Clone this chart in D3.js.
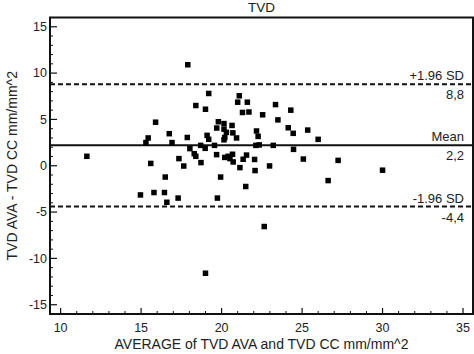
<!DOCTYPE html>
<html>
<head>
<meta charset="utf-8">
<script src="https://cdn.jsdelivr.net/npm/d3@7"></script>
<style>
  body { margin: 0; background: #fff; }
  text { font-family: "Liberation Sans", Arial, sans-serif; fill: #222; }
</style>
</head>
<body>
<div id="chart"></div>
<script>
// averages (x) and differences (y)
const avg = [17.9, 19.2, 21.1, 21.0, 21.6, 18.4, 19.0, 21.3, 21.7, 22.55,
  23.35, 24.3, 23.5, 15.9, 19.8, 20.15, 20.65, 19.7, 20.15, 20.3,
  20.7, 20.2, 20.93, 20.15, 19.1, 19.2, 17.87, 16.75, 16.92, 15.44,
  15.3, 18.7, 19.56, 18.98, 22.17, 22.27, 22.13, 22.34, 23.21, 24.14,
  24.45, 25.35, 26.0, 24.47, 18.03, 18.3, 18.4, 18.72, 19.69, 20.2,
  20.41, 20.68, 20.52, 20.72, 21.14, 21.55, 21.34, 22.05, 22.08, 22.98,
  17.35, 17.65, 15.6, 16.5, 19.94, 14.96, 15.8, 16.45, 16.6, 17.3,
  19.74, 21.5, 22.65, 25.08, 27.24, 26.62, 30.0, 11.63, 19.0];
const diff = [10.9, 7.8, 7.55, 6.86, 6.86, 6.5, 6.1, 5.75, 5.8, 5.5,
  6.6, 6.0, 4.95, 4.7, 4.75, 4.55, 4.35, 4.07, 3.95, 3.6,
  3.55, 3.05, 3.0, 2.8, 3.28, 2.85, 3.05, 3.46, 2.5, 3.0,
  2.5, 2.2, 2.2, 1.88, 3.75, 3.17, 2.2, 2.25, 2.2, 4.1,
  3.5, 3.85, 2.85, 1.77, 1.85, 1.3, 1.02, 0.34, 1.2, 0.9,
  1.02, 1.24, 0.77, 0.41, -0.2, 1.15, 0.7, 0.68, -0.52, -0.02,
  0.77, -0.03, 0.25, -1.22, -1.22, -3.15, -2.89, -2.89, -3.94, -3.49,
  -3.49, -2.24, -6.56, 0.72, 0.58, -1.6, -0.48, 1.02, -11.6];

// limits of agreement
const refValues = [8.8, 2.2, -4.4];
const refNames = ["+1.96 SD", "Mean", "-1.96 SD"];
const refLabels = ["8,8", "2,2", "-4,4"];

const xTicks = [10, 15, 20, 25, 30, 35];
const yTicks = [-15, -10, -5, 0, 5, 10, 15];

const margin = {top: 17.5, right: 1, bottom: 40, left: 50},
    width = 474 - margin.left - margin.right,
    height = 354 - margin.top - margin.bottom;

const svg = d3.select("#chart")
    .append("svg")
    .attr("width", 474)
    .attr("height", 354)
    .append("g")
    .attr("transform", `translate(${margin.left}, ${margin.top})`);

const x = d3.scaleLinear().domain([9.34, 35.62]).range([0, width]);
const y = d3.scaleLinear().domain([-16, 16]).range([height, 0]);

// minor ticks every 1 unit, pointing inward
const xMinor = d3.range(10, 36, 1).filter(d => d % 5 !== 0);
const yMinor = d3.range(-15, 16, 1).filter(d => d % 5 !== 0);

const xAxis = svg.append("g")
    .attr("transform", `translate(0, ${height})`);
xAxis.selectAll(".minor").data(xMinor).enter().append("line")
    .attr("x1", d => x(d)).attr("x2", d => x(d))
    .attr("y1", 0).attr("y2", -3)
    .attr("stroke", "#111").attr("stroke-width", 1);
xAxis.selectAll(".major").data(xTicks).enter().append("line")
    .attr("x1", d => x(d)).attr("x2", d => x(d))
    .attr("y1", 0).attr("y2", -6)
    .attr("stroke", "#111").attr("stroke-width", 1.2);
xAxis.selectAll("text").data(xTicks).enter().append("text")
    .attr("x", d => x(d))
    .attr("y", 18)
    .attr("text-anchor", "middle")
    .style("font-size", "12.5px")
    .text(d => d);

const yAxis = svg.append("g");
yAxis.selectAll(".minor").data(yMinor).enter().append("line")
    .attr("y1", d => y(d)).attr("y2", d => y(d))
    .attr("x1", 0).attr("x2", 3)
    .attr("stroke", "#111").attr("stroke-width", 1);
yAxis.selectAll(".major").data(yTicks).enter().append("line")
    .attr("y1", d => y(d)).attr("y2", d => y(d))
    .attr("x1", 0).attr("x2", 7)
    .attr("stroke", "#111").attr("stroke-width", 1.2);
yAxis.selectAll("text").data(yTicks).enter().append("text")
    .attr("x", -3)
    .attr("y", d => y(d))
    .attr("dy", "0.35em")
    .attr("text-anchor", "end")
    .style("font-size", "12.5px")
    .text(d => d);

// frame
svg.append("rect")
    .attr("width", width)
    .attr("height", height)
    .attr("fill", "none")
    .attr("stroke", "#111")
    .attr("stroke-width", 2);

// reference lines
const refs = refValues.map((v, i) => ({v: v, name: refNames[i], label: refLabels[i]}));
svg.selectAll(".ref").data(refs).enter().append("line")
    .attr("x1", 0).attr("x2", width)
    .attr("y1", d => y(d.v)).attr("y2", d => y(d.v))
    .attr("stroke", "#111")
    .attr("stroke-width", 2)
    .attr("stroke-dasharray", d => d.name === "Mean" ? null : "5,3");
svg.selectAll(".refname").data(refs).enter().append("text")
    .attr("x", x(35) + 1)
    .attr("y", d => y(d.v) - 4)
    .attr("text-anchor", "end")
    .style("font-size", "13px")
    .text(d => d.name);
svg.selectAll(".reflabel").data(refs).enter().append("text")
    .attr("x", x(35) + 1)
    .attr("y", d => y(d.v) + 15)
    .attr("text-anchor", "end")
    .style("font-size", "13px")
    .text(d => d.label);

// points
const pts = avg.map((a, i) => ({x: a, y: diff[i]}));
const s = 5.5;
svg.append("g")
    .selectAll("rect")
    .data(pts)
    .enter()
    .append("rect")
    .attr("x", d => x(d.x) - s / 2)
    .attr("y", d => y(d.y) - s / 2)
    .attr("width", s)
    .attr("height", s)
    .attr("fill", "#000");

// titles
svg.append("text")
    .attr("x", width / 2)
    .attr("y", -5.5)
    .attr("text-anchor", "middle")
    .style("font-size", "13.5px")
    .text("TVD");

svg.append("text")
    .attr("x", width / 2)
    .attr("y", height + 35)
    .attr("text-anchor", "middle")
    .style("font-size", "14px")
    .text("AVERAGE of TVD AVA and TVD CC mm/mm^2");

svg.append("text")
    .attr("transform", "rotate(-90)")
    .attr("x", -height / 2)
    .attr("y", -33)
    .attr("text-anchor", "middle")
    .style("font-size", "14px")
    .text("TVD AVA - TVD CC mm/mm^2");
</script>
</body>
</html>
